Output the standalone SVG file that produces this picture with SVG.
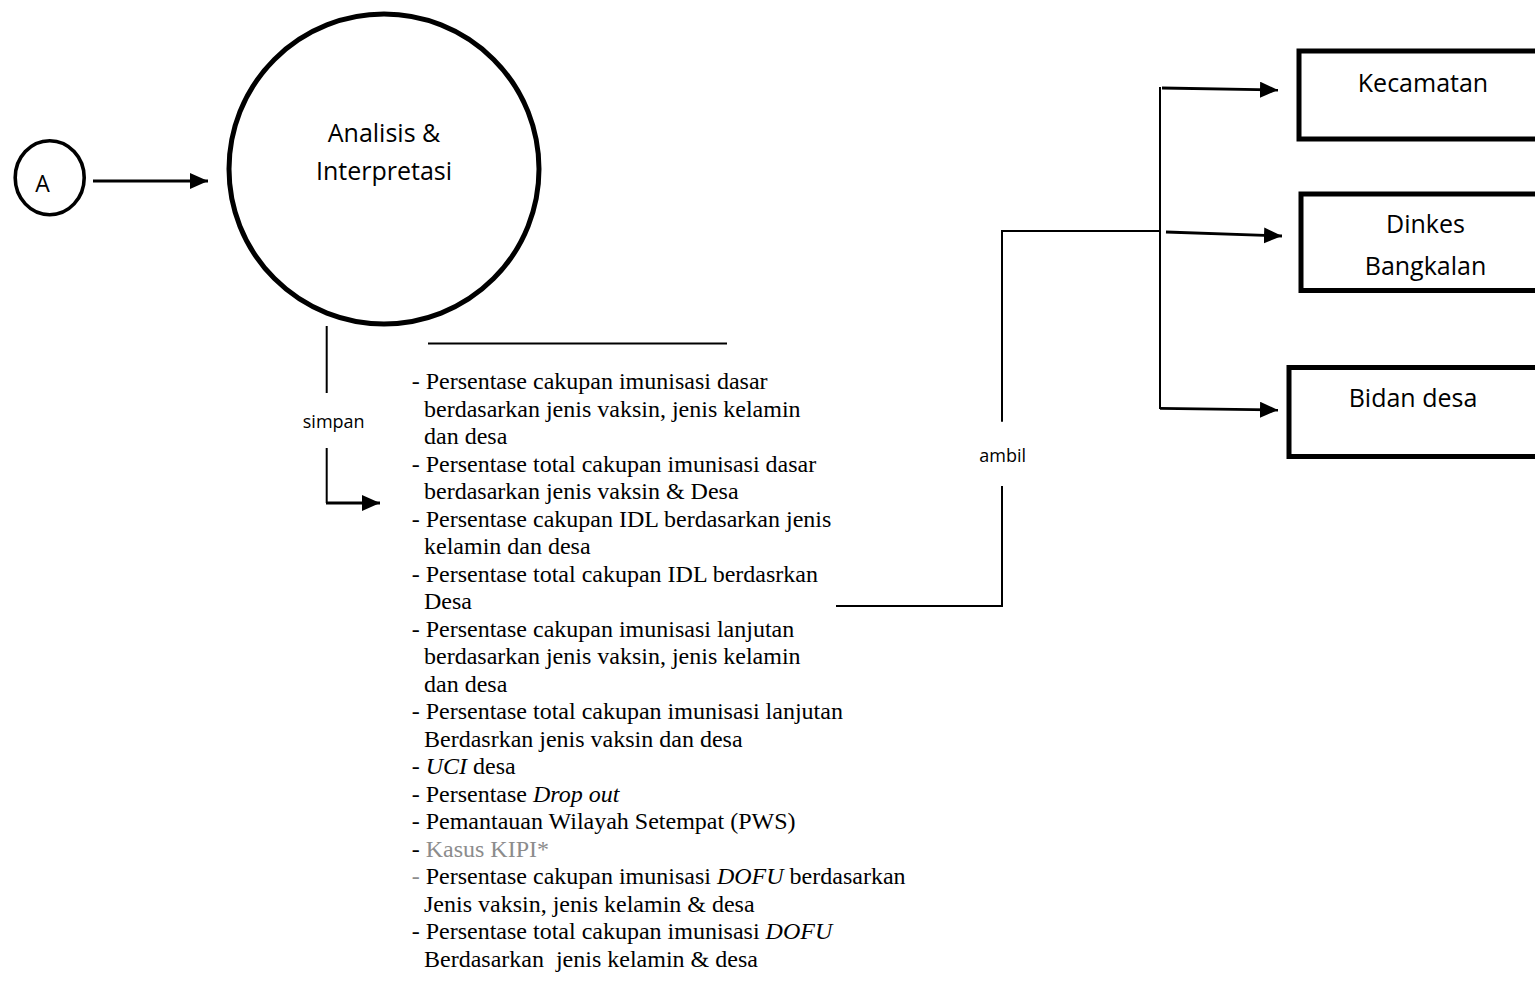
<svg xmlns="http://www.w3.org/2000/svg" width="1535" height="986" viewBox="0 0 1535 986">
  <style>
    .node { fill: #ffffff; stroke: #000000; }
    .sans { font-family: "Open Sans", "Liberation Sans", sans-serif; fill: #000000; }
    .lbl { font-size: 25px; text-anchor: middle; }
    .small { font-size: 18px; text-anchor: middle; }
    .list { font-family: "Liberation Serif", "Times New Roman", serif; font-size: 24px; fill: #000000; }
    .it { font-style: italic; }
    .grey { fill: #8c8c8c; }
    .wire { fill: none; stroke: #000000; stroke-width: 2; }
    .wire-thick { fill: none; stroke: #000000; stroke-width: 2.8; }
  </style>
  <defs>
    <marker id="head" markerUnits="userSpaceOnUse" markerWidth="19" markerHeight="17" refX="18" refY="8" orient="auto">
      <path d="M0,0 L18,8 L0,16 z" fill="#000000"/>
    </marker>
  </defs>

  <rect width="1535" height="986" fill="#ffffff"/>

  <!-- connector lines -->
  <g id="connectors">
    <!-- A to process -->
    <line class="wire-thick" x1="93" y1="181" x2="208" y2="181" marker-end="url(#head)"/>
    <!-- simpan: process to data store -->
    <line class="wire" x1="326.7" y1="326" x2="326.7" y2="393"/>
    <line class="wire" x1="326.7" y1="448" x2="326.7" y2="503"/>
    <line class="wire-thick" x1="326" y1="503" x2="380" y2="503" marker-end="url(#head)"/>
    <!-- data store top rule -->
    <line class="wire" x1="428" y1="343.5" x2="727" y2="343.5"/>
    <!-- ambil: data store to recipients -->
    <polyline class="wire" points="836,606 1002,606 1002,486"/>
    <polyline class="wire" points="1002,421.7 1002,231 1160,231"/>
    <line class="wire" x1="1160" y1="87" x2="1160" y2="409"/>
    <line class="wire-thick" x1="1162" y1="88" x2="1278" y2="90" marker-end="url(#head)"/>
    <line class="wire-thick" x1="1166" y1="232" x2="1282" y2="236" marker-end="url(#head)"/>
    <line class="wire-thick" x1="1160" y1="408.3" x2="1278" y2="410" marker-end="url(#head)"/>
    <!-- connector labels -->
    <text class="sans small" x="333.7" y="428">simpan</text>
    <text class="sans small" x="1002.7" y="462">ambil</text>
  </g>

  <!-- off-page connector A -->
  <g id="node-a">
    <ellipse class="node" cx="49.7" cy="177.7" rx="34.5" ry="37" stroke-width="3.6"/>
    <text class="sans" x="42.5" y="191.5" font-size="23" text-anchor="middle">A</text>
  </g>

  <!-- process: Analisis & Interpretasi -->
  <g id="node-analisis">
    <circle class="node" cx="384" cy="169" r="155" stroke-width="5"/>
    <text class="sans lbl" x="384" y="141.7">Analisis &amp;</text>
    <text class="sans lbl" x="384" y="180">Interpretasi</text>
  </g>

  <!-- data store contents -->
  <g id="node-data">
    <text class="list" x="411.7" y="389">- Persentase cakupan imunisasi dasar</text>
    <text class="list" x="424" y="416.5">berdasarkan jenis vaksin, jenis kelamin</text>
    <text class="list" x="424" y="444">dan desa</text>
    <text class="list" x="411.7" y="471.5">- Persentase total cakupan imunisasi dasar</text>
    <text class="list" x="424" y="499">berdasarkan jenis vaksin &amp; Desa</text>
    <text class="list" x="411.7" y="526.5">- Persentase cakupan IDL berdasarkan jenis</text>
    <text class="list" x="424" y="554">kelamin dan desa</text>
    <text class="list" x="411.7" y="581.5">- Persentase total cakupan IDL berdasrkan</text>
    <text class="list" x="424" y="609">Desa</text>
    <text class="list" x="411.7" y="636.5">- Persentase cakupan imunisasi lanjutan</text>
    <text class="list" x="424" y="664">berdasarkan jenis vaksin, jenis kelamin</text>
    <text class="list" x="424" y="691.5">dan desa</text>
    <text class="list" x="411.7" y="719">- Persentase total cakupan imunisasi lanjutan</text>
    <text class="list" x="424" y="746.5">Berdasrkan jenis vaksin dan desa</text>
    <text class="list" x="411.7" y="774">- <tspan class="it">UCI</tspan> desa</text>
    <text class="list" x="411.7" y="801.5">- Persentase <tspan class="it">Drop out</tspan></text>
    <text class="list" x="411.7" y="829">- Pemantauan Wilayah Setempat (PWS)</text>
    <text class="list" x="411.7" y="856.5">- <tspan class="grey">Kasus KIPI*</tspan></text>
    <text class="list" x="411.7" y="884"><tspan class="grey">-</tspan> Persentase cakupan imunisasi <tspan class="it">DOFU</tspan> berdasarkan</text>
    <text class="list" x="424" y="911.5">Jenis vaksin, jenis kelamin &amp; desa</text>
    <text class="list" x="411.7" y="939">- Persentase total cakupan imunisasi <tspan class="it">DOFU</tspan></text>
    <text class="list" x="424" y="966.5">Berdasarkan&#160; jenis kelamin &amp; desa</text>
  </g>

  <!-- recipients -->
  <g id="node-kecamatan">
    <rect class="node" x="1299" y="51" width="300" height="88" stroke-width="5"/>
    <text class="sans lbl" x="1423" y="91.7">Kecamatan</text>
  </g>
  <g id="node-dinkes">
    <rect class="node" x="1301" y="194" width="300" height="96.5" stroke-width="5"/>
    <text class="sans lbl" x="1425.5" y="233">Dinkes</text>
    <text class="sans lbl" x="1425.5" y="275">Bangkalan</text>
  </g>
  <g id="node-bidan">
    <rect class="node" x="1289" y="367.5" width="300" height="89" stroke-width="5"/>
    <text class="sans lbl" x="1413" y="406.7">Bidan desa</text>
  </g>
</svg>
